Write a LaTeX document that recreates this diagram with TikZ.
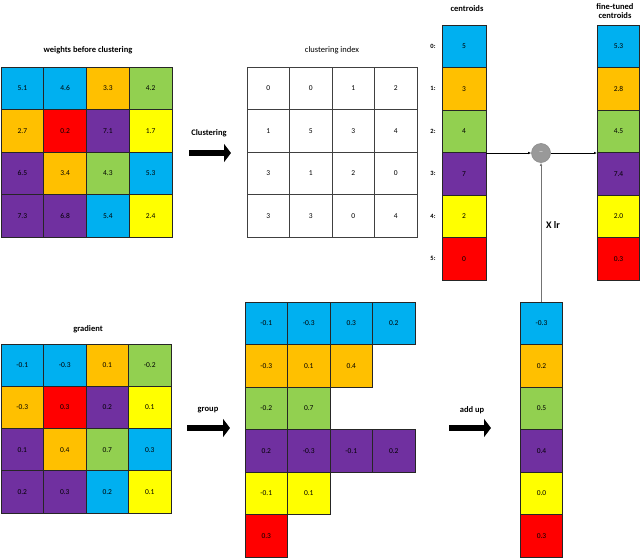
\documentclass[tikz,border=0pt]{standalone}
\usepackage{fontspec}
\setmainfont{Carlito}
\usetikzlibrary{arrows.meta}
\definecolor{ccyan}{HTML}{00B0F0}
\definecolor{corange}{HTML}{FFC000}
\definecolor{cgreen}{HTML}{92D050}
\definecolor{cpurple}{HTML}{7030A0}
\definecolor{cyellow}{HTML}{FFFF00}
\definecolor{cred}{HTML}{FF0000}
\tikzset{
  cell/.style={rectangle, draw=black!85, line width=0.9pt, inner sep=0pt,
    minimum width=42.75pt, minimum height=42.5pt, font=\fontsize{7.5}{8.5}\selectfont},
  wcell/.style={cell, draw=black!75, line width=0.7pt},
  ttl/.style={font=\bfseries\fontsize{8.5}{9.5}\selectfont, align=center},
  lbl/.style={font=\bfseries\fontsize{8.5}{9.5}\selectfont},
  idx/.style={font=\bfseries\fontsize{6.5}{7.5}\selectfont},
  bigarrow/.style={line width=6pt, -{Triangle[length=7pt,width=18pt]}},
  thin/.style={line width=0.6pt, -{Latex[length=3pt,width=2.5pt]}}
}
\begin{document}
\begin{tikzpicture}[x=1pt,y=-1pt]
\useasboundingbox (0,0) rectangle (640,557);
% weights before clustering
\node[ttl] (t1) at (88,50) {weights before clustering};
\foreach \r/\row in {0/{ccyan/5.1,ccyan/4.6,corange/3.3,cgreen/4.2},
                     1/{corange/2.7,cred/0.2,cpurple/7.1,cyellow/1.7},
                     2/{cpurple/6.5,corange/3.4,cgreen/4.3,ccyan/5.3},
                     3/{cpurple/7.3,cpurple/6.8,ccyan/5.4,cyellow/2.4}}{
  \foreach \col/\v [count=\c from 0] in \row {
    \node[cell, fill=\col] (w-\r-\c) at ({1+42.75*(\c+0.5)},{67+42.5*(\r+0.5)}) {\v};
  }
}
% clustering index
\node[ttl, font=\fontsize{8.5}{9.5}\selectfont] (t2) at (332,50) {clustering index};
\foreach \r/\row in {0/{0,0,1,2},1/{1,5,3,4},2/{3,1,2,0},3/{3,3,0,4}}{
  \foreach \v [count=\c from 0] in \row {
    \node[wcell] (i-\r-\c) at ({247+42.5*(\c+0.5)},{67+42.5*(\r+0.5)}) {\v};
  }
}
\node[lbl] (lc) at (209,133) {Clustering};
\coordinate (a1s) at (189,153);
\coordinate (a1e) at (231,153);
\draw[bigarrow] (a1s) -- (a1e);
% centroids
\node[ttl] (t3) at (467,9) {centroids};
\foreach \col/\v [count=\k from 0] in {ccyan/5,corange/3,cgreen/4,cpurple/7,cyellow/2,cred/0}{
  \node[cell, minimum width=44pt, fill=\col] (c-\k) at (464,{25+42.5*(\k+0.5)}) {\v};
  \node[idx] (ci-\k) at (433,{25+42.5*(\k+0.5)}) {\k:};
}
% fine-tuned centroids
\node[ttl] (t4) at (615,11) {fine-tuned\\centroids};
\foreach \col/\v [count=\k from 0] in {ccyan/5.3,corange/2.8,cgreen/4.5,cpurple/7.4,cyellow/2.0,cred/0.3}{
  \node[cell, minimum width=42.5pt, fill=\col] (f-\k) at (618.5,{25+42.5*(\k+0.5)}) {\v};
}
% minus circle
\node[circle, fill=black!40, draw=black!45, line width=0.6pt, minimum size=19pt, inner sep=0pt,
  font=\bfseries\fontsize{9}{10}\selectfont, text=black!20] (m) at (541,153) {--};
\coordinate (cr) at (486,153);
\coordinate (fl) at (597,153);
\draw[thin] (cr) -- (m.west);
\draw[thin] (m.east) -- (fl);
% gradient
\node[ttl] (t5) at (88,329) {gradient};
\foreach \r/\row in {0/{ccyan/-0.1,ccyan/-0.3,corange/0.1,cgreen/-0.2},
                     1/{corange/-0.3,cred/0.3,cpurple/0.2,cyellow/0.1},
                     2/{cpurple/0.1,corange/0.4,cgreen/0.7,ccyan/0.3},
                     3/{cpurple/0.2,cpurple/0.3,ccyan/0.2,cyellow/0.1}}{
  \foreach \col/\v [count=\c from 0] in \row {
    \node[cell, minimum width=42.5pt, minimum height=42.25pt, fill=\col] (g-\r-\c) at ({1+42.5*(\c+0.5)},{344+42.25*(\r+0.5)}) {\v};
  }
}
% group
\foreach \r/\col/\row in {0/ccyan/{-0.1,-0.3,0.3,0.2},
                          1/corange/{-0.3,0.1,0.4},
                          2/cgreen/{-0.2,0.7},
                          3/cpurple/{0.2,-0.3,-0.1,0.2},
                          4/cyellow/{-0.1,0.1},
                          5/cred/{0.3}}{
  \foreach \v [count=\c from 0] in \row {
    \node[cell, minimum width=42.5pt, fill=\col] (gr-\r-\c) at ({245+42.5*(\c+0.5)},{302+42.5*(\r+0.5)}) {\v};
  }
}
\node[lbl] (lg) at (208,410) {group};
\coordinate (a2s) at (187,428);
\coordinate (a2e) at (230,428);
\draw[bigarrow] (a2s) -- (a2e);
% add up
\foreach \col/\v [count=\k from 0] in {ccyan/-0.3,corange/0.2,cgreen/0.5,cpurple/0.4,cyellow/0.0,cred/0.3}{
  \node[cell, fill=\col] (s-\k) at (541.5,{302+42.5*(\k+0.5)}) {\v};
}
\node[lbl] (la) at (472,410) {add up};
\coordinate (a3s) at (449,428);
\coordinate (a3e) at (491,428);
\draw[bigarrow] (a3s) -- (a3e);
% X lr
\draw[thin, draw=black!55] (s-0.north -| m) -- (m.south);
\node[lbl, font=\bfseries\fontsize{10}{11}\selectfont] (xl) at (553,225) {X lr};
\end{tikzpicture}
\end{document}
